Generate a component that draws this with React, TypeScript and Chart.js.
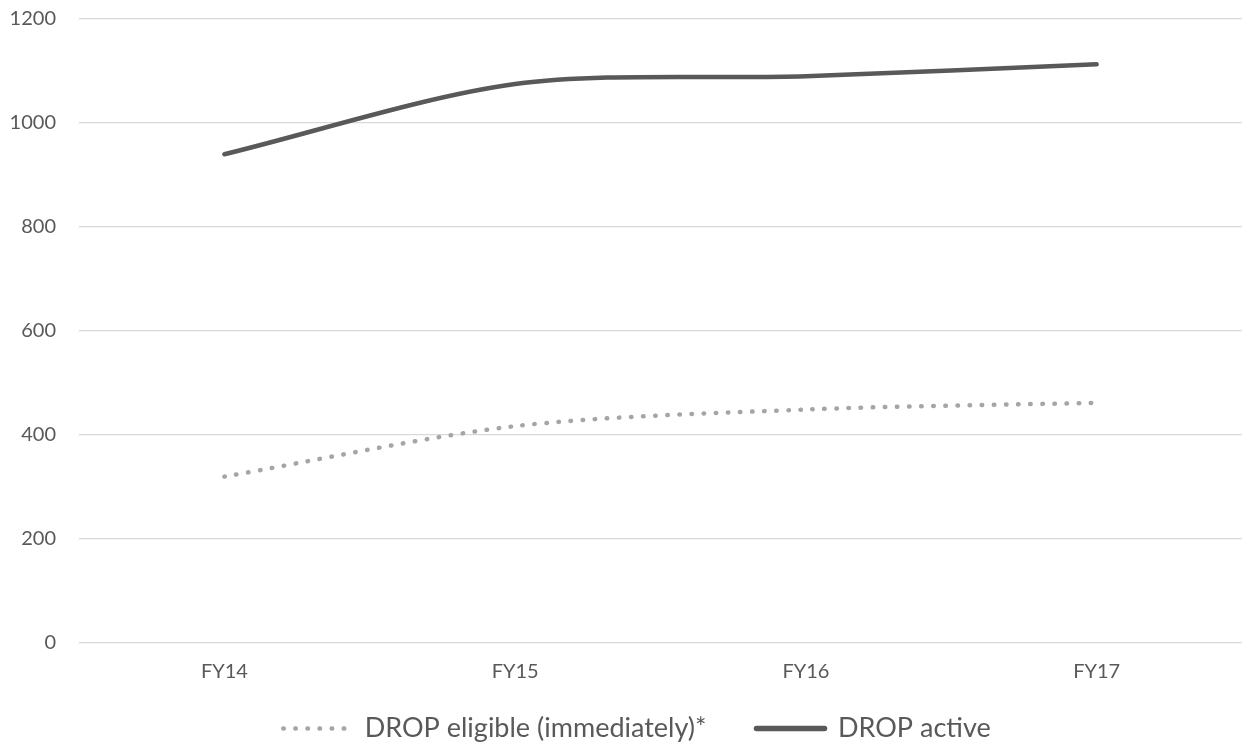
import React, { useEffect, useRef } from 'react';
import { Chart, registerables } from 'chart.js';

Chart.register(...registerables);

const categories = ['FY14', 'FY15', 'FY16', 'FY17'];
const eligibleValues = [320, 417, 449, 462];
const activeValues = [940, 1075, 1090, 1113];
const yTickValues = [0, 200, 400, 600, 800, 1000, 1200];
const seriesNames = ['DROP eligible (immediately)*', 'DROP active'];

const TEXT_COLOR = '#595959';
const FONT_FAMILY = 'Lato, "Open Sans", sans-serif';
const LEGEND_DX = 16;
const LEGEND_DY = -23;

const legendNudge = {
  id: 'legendNudge',
  afterLayout(chart: any) {
    const l = chart.legend;
    if (!l) return;
    l.left += LEGEND_DX;
    l.right += LEGEND_DX;
    l.top += LEGEND_DY;
  },
};

export default function App() {
  const canvasRef = useRef<HTMLCanvasElement>(null);

  useEffect(() => {
    const canvas = canvasRef.current;
    if (!canvas) return;
    const chart = new Chart(canvas, {
      type: 'line',
      data: {
        labels: categories,
        datasets: [
          {
            label: seriesNames[0],
            data: eligibleValues,
            borderColor: '#A5A5A5',
            backgroundColor: '#A5A5A5',
            borderWidth: 4.5,
            borderDash: [0.5, 11.6],
            borderCapStyle: 'round',
            tension: 0.3,
            pointRadius: 0,
            pointHoverRadius: 0,
            fill: false,
          },
          {
            label: seriesNames[1],
            data: activeValues,
            borderColor: '#595959',
            backgroundColor: '#595959',
            borderWidth: 4.5,
            borderCapStyle: 'round',
            tension: 0.3,
            pointRadius: 0,
            pointHoverRadius: 0,
            fill: false,
          },
        ],
      },
      options: {
        responsive: false,
        animation: false,
        devicePixelRatio: 1,
        events: [],
        layout: { padding: { top: 19, right: 2, left: 0, bottom: 0 } },
        plugins: {
          tooltip: { enabled: false },
          legend: {
            position: 'bottom',
            maxHeight: 56,
            labels: {
              usePointStyle: true,
              pointStyleWidth: 68,
              padding: 50,
              color: TEXT_COLOR,
              font: { family: FONT_FAMILY, size: 27 },
              generateLabels: (c: any) =>
                c.data.datasets.map((ds: any, i: number) => ({
                  text: ds.label,
                  fillStyle: 'rgba(0,0,0,0)',
                  strokeStyle: ds.borderColor,
                  lineWidth: i === 0 ? 4.5 : 5.5,
                  lineDash: ds.borderDash || [],
                  lineCap: 'round',
                  pointStyle: 'line',
                  hidden: false,
                  datasetIndex: i,
                  fontColor: TEXT_COLOR,
                })),
            },
          },
        },
        scales: {
          x: {
            offset: true,
            grid: { display: false, drawTicks: false },
            border: { display: false },
            ticks: {
              color: TEXT_COLOR,
              font: { family: FONT_FAMILY, size: 20 },
              padding: 17,
              maxRotation: 0,
            },
            afterFit: (s: any) => {
              s.height = 45;
            },
          },
          y: {
            min: 0,
            max: 1200,
            grid: { color: '#D9D9D9', lineWidth: 1.2, drawTicks: false },
            border: { display: false },
            ticks: {
              color: TEXT_COLOR,
              font: { family: FONT_FAMILY, size: 20 },
              padding: 23,
              callback: (v: any) => String(v),
            },
            afterBuildTicks: (s: any) => {
              s.ticks = yTickValues.map((v) => ({ value: v }));
            },
            afterFit: (s: any) => {
              s.width = 79;
              s.paddingTop = 0;
              s.paddingBottom = 0;
            },
          },
        },
      },
      plugins: [legendNudge],
    });
    return () => chart.destroy();
  }, []);

  return (
    <div style={{ position: 'fixed', left: 0, top: 0, width: 1244, height: 744, background: '#ffffff' }}>
      <canvas ref={canvasRef} width={1244} height={744} style={{ width: 1244, height: 744, display: 'block' }} />
    </div>
  );
}
